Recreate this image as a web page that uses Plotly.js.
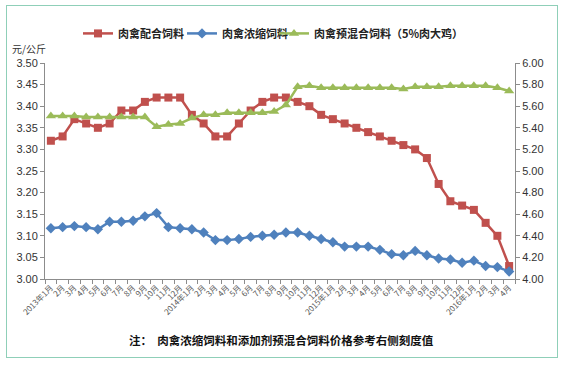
<!DOCTYPE html>
<html>
<head>
<meta charset="utf-8">
<script src="https://cdn.plot.ly/plotly-3.0.1.min.js"></script>
<style>
html,body{margin:0;padding:0;background:#fff;}
#wrap{position:relative;width:570px;height:368px;}
#chart{width:570px;height:368px;}
#frame{position:absolute;left:6px;top:5px;width:550px;height:351px;border:1px solid #8fcfb8;pointer-events:none;}
</style>
</head>
<body>
<div id="wrap"><div id="chart"></div><div id="frame"></div></div>
<script>
const months = ["2013年1月","2月","3月","4月","5月","6月","7月","8月","9月","10月","11月","12月",
  "2014年1月","2月","3月","4月","5月","6月","7月","8月","9月","10月","11月","12月",
  "2015年1月","2月","3月","4月","5月","6月","7月","8月","9月","10月","11月","12月",
  "2016年1月","2月","3月","4月"];
// Use unique category keys so repeated month names do not collapse
const cats = months.map((m, i) => i);

const compound = [3.32,3.33,3.37,3.36,3.35,3.36,3.39,3.39,3.41,3.42,3.42,3.42,
  3.38,3.36,3.33,3.33,3.36,3.39,3.41,3.42,3.42,3.41,3.40,3.38,
  3.37,3.36,3.35,3.34,3.33,3.32,3.31,3.30,3.28,3.22,3.18,3.17,
  3.16,3.13,3.10,3.03];
const concentrate = [4.47,4.48,4.49,4.48,4.46,4.53,4.53,4.54,4.58,4.61,4.48,4.47,
  4.46,4.43,4.36,4.36,4.37,4.39,4.40,4.41,4.43,4.43,4.40,4.37,
  4.34,4.30,4.30,4.30,4.27,4.23,4.22,4.26,4.22,4.19,4.18,4.15,
  4.17,4.12,4.11,4.07];
const premix = [5.51,5.51,5.51,5.50,5.50,5.50,5.50,5.50,5.50,5.41,5.43,5.44,
  5.49,5.52,5.52,5.54,5.54,5.54,5.54,5.55,5.61,5.78,5.79,5.77,
  5.77,5.77,5.77,5.77,5.77,5.77,5.76,5.78,5.78,5.78,5.79,5.79,
  5.79,5.79,5.77,5.74];

const names = ["肉禽配合饲料","肉禽浓缩饲料","肉禽预混合饲料（5%肉大鸡）"];
const cjk = '"Noto Sans CJK SC", "Liberation Sans", Arial, sans-serif';

const traces = [
  {x: cats, y: compound, name: names[0], type: 'scatter', mode: 'lines+markers', yaxis: 'y', legend: 'legend',
   line: {color: '#C0504D', width: 2.5}, marker: {symbol: 'square', size: 8, color: '#C0504D'}},
  {x: cats, y: concentrate, name: names[1], type: 'scatter', mode: 'lines+markers', yaxis: 'y2', legend: 'legend2',
   line: {color: '#4F81BD', width: 2.5}, marker: {symbol: 'diamond', size: 8, color: '#4F81BD'}},
  {x: cats, y: premix, name: names[2], type: 'scatter', mode: 'lines+markers', yaxis: 'y2', legend: 'legend3',
   line: {color: '#9BBB59', width: 2.5}, marker: {symbol: 'triangle-up', size: 9, color: '#9BBB59'}}
];

function legendAt(px) {
  return {orientation: 'h', x: (px - 45) / 470, xanchor: 'left', y: 1.137, yanchor: 'middle',
    font: {family: cjk, size: 11, color: '#222', weight: 'bold'},
    itemwidth: 30, bgcolor: 'rgba(0,0,0,0)', borderwidth: 0};
}

const layout = {
  width: 570, height: 368,
  margin: {l: 45, r: 55, t: 62.7, b: 89.3},
  paper_bgcolor: '#fff', plot_bgcolor: '#fff',
  font: {family: '"Liberation Sans", Arial, sans-serif', color: '#404040', size: 11},
  showlegend: true,
  legend: legendAt(78),
  legend2: legendAt(182),
  legend3: legendAt(274),
  xaxis: {type: 'category', tickmode: 'array', tickvals: cats, ticktext: months,
    range: [-0.5, 39.5], tickangle: -45, tickfont: {family: cjk, size: 8, color: '#595959'},
    showline: true, linecolor: '#8c8c8c', linewidth: 1, ticks: 'outside', ticklen: 4,
    tickcolor: '#8c8c8c', tickson: 'boundaries', showgrid: false, zeroline: false, fixedrange: true},
  yaxis: {range: [3.0, 3.5], dtick: 0.05, tickformat: '.2f', showline: true, linecolor: '#8c8c8c',
    ticks: 'outside', ticklen: 4, tickcolor: '#8c8c8c', showgrid: false, zeroline: false,
    tickfont: {size: 11, color: '#333'}},
  yaxis2: {range: [4.0, 6.0], dtick: 0.2, tickformat: '.2f', overlaying: 'y', side: 'right',
    showline: true, linecolor: '#8c8c8c', ticks: 'outside', ticklen: 4, tickcolor: '#8c8c8c',
    showgrid: false, zeroline: false, tickfont: {size: 11, color: '#333'}},
  annotations: [
    {text: '元/公斤', xref: 'paper', yref: 'paper', x: (10-45)/470, y: (278.7-48)/216,
     xanchor: 'left', yanchor: 'middle', showarrow: false, font: {family: cjk, size: 10, color: '#333'}},
    {text: '注：  肉禽浓缩饲料和添加剂预混合饲料价格参考右侧刻度值', xref: 'paper', yref: 'paper',
     x: (281-45)/470, y: (278.7-340)/216, xanchor: 'center', yanchor: 'middle', showarrow: false,
     font: {family: cjk, size: 11.5, color: '#111', weight: 'bold'}}
  ]
};

Plotly.newPlot('chart', traces, layout, {displayModeBar: false, staticPlot: true});
</script>
</body>
</html>
